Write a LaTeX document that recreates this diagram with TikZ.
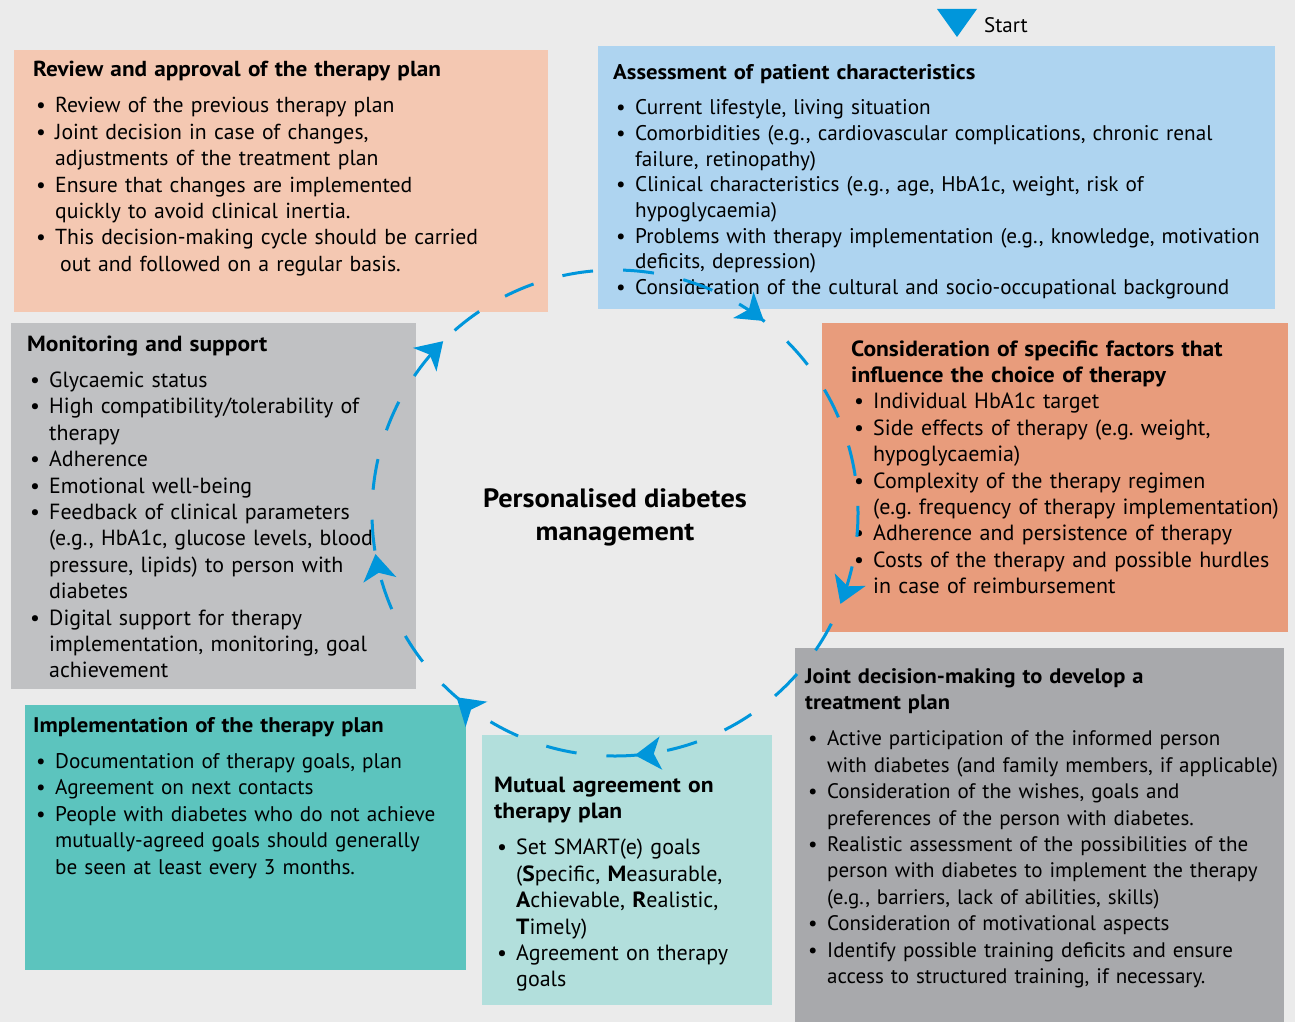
\documentclass[tikz,border=0pt]{standalone}
\usepackage{fontspec}
\setmainfont{PT Sans}[BoldFeatures={FakeStretch=1.07}]
\usetikzlibrary{arrows.meta,decorations.markings}
\definecolor{backgr}{RGB}{235,235,235}
\definecolor{flowblue}{RGB}{0,150,219}
\definecolor{reviewcol}{RGB}{244,200,178}
\definecolor{assesscol}{RGB}{174,212,240}
\definecolor{factorcol}{RGB}{232,156,124}
\definecolor{monitorcol}{RGB}{192,193,195}
\definecolor{jointcol}{RGB}{168,169,172}
\definecolor{implcol}{RGB}{92,196,190}
\definecolor{mutualcol}{RGB}{178,223,220}
\newcommand{\bul}{\hspace*{3pt}\makebox[19pt][l]{\textbullet}}
\newcommand{\cont}{\hspace*{22pt}}
\frenchspacing

\begin{document}
\begin{tikzpicture}[x=1pt,y=1pt,
	panel/.style={anchor=north west, inner sep=0pt, outer sep=0pt},
	body/.style={anchor=base west, inner sep=0pt, align=left, text width=700pt,
		font=\fontsize{#1}{26.4}\selectfont},
	ring/.style={draw=flowblue, line width=3pt, dash pattern=on 31pt off 30.08pt, dash phase=53pt,
		postaction={decorate, decoration={markings,
			mark=at position 0.105 with {\arrow{Stealth[length=26pt,width=33pt,inset=7pt]}},
			mark=at position 0.311 with {\arrow{Stealth[length=26pt,width=33pt,inset=7pt]}},
			mark=at position 0.487 with {\arrow{Stealth[length=26pt,width=33pt,inset=7pt]}},
			mark=at position 0.613 with {\arrow{Stealth[length=26pt,width=33pt,inset=7pt]}},
			mark=at position 0.723 with {\arrow{Stealth[length=26pt,width=33pt,inset=7pt]}},
			mark=at position 0.875 with {\arrow{Stealth[length=26pt,width=33pt,inset=7pt]}}}}}]
	\useasboundingbox[fill=backgr] (0,0) rectangle (1295,-1022);

	% start marker
	\fill[flowblue] (937,-9) -- (977,-9) -- (957,-37) -- cycle;
	\node[anchor=base west, inner sep=0pt, font=\fontsize{21}{26}\selectfont] (start) at (984,-33) {Start};

	% panels
	\node[panel, fill=reviewcol, minimum width=534pt, minimum height=262pt] (review) at (14,-50) {};
	\node[panel, fill=assesscol, minimum width=677pt, minimum height=263pt] (assess) at (598,-46) {};
	\node[panel, fill=factorcol, minimum width=466pt, minimum height=309pt] (factor) at (822,-323) {};
	\node[panel, fill=monitorcol, minimum width=405pt, minimum height=366pt] (monitor) at (11,-323) {};
	\node[panel, fill=jointcol, minimum width=489pt, minimum height=374pt] (joint) at (795,-648) {};
	\node[panel, fill=implcol, minimum width=441pt, minimum height=265pt] (impl) at (25,-705) {};
	\node[panel, fill=mutualcol, minimum width=290pt, minimum height=270pt] (mutual) at (482,-735) {};

	% texts
	\node[body=21.7] (reviewtxt) at (33,-77) {\textbf{Review and approval of the therapy plan}\\[9.6pt]
		\bul Review of the previous therapy plan\\
		\bul Joint decision in case of changes,\\
		\cont adjustments of the treatment plan\\
		\bul Ensure that changes are implemented\\
		\cont quickly to avoid clinical inertia.\\
		\bul This decision-making cycle should be carried\\
		\cont\hspace*{5pt}out and followed on a regular basis.};
	\node[body=21.2, font=\fontsize{21.2}{25.7}\selectfont] (assesstxt) at (613,-80) {\textbf{Assessment of patient characteristics}\\[9pt]
		\bul Current lifestyle, living situation\\
		\bul Comorbidities (e.g., cardiovascular complications, chronic renal\\
		\cont failure, retinopathy)\\
		\bul Clinical characteristics (e.g., age, HbA1c, weight, risk of\\
		\cont hypoglycaemia)\\
		\bul Problems with therapy implementation (e.g., knowledge, motivation\\
		\cont deficits, depression)\\
		\bul Consideration of the cultural and socio-occupational background};
	\node[body=22] (factortxt) at (851,-356) {\textbf{Consideration of specific factors that}\\
		\textbf{influence the choice of therapy}\\
		\bul Individual HbA1c target\\
		\bul Side effects of therapy (e.g. weight,\\
		\cont hypoglycaemia)\\
		\bul Complexity of the therapy regimen\\
		\cont (e.g. frequency of therapy implementation)\\
		\bul Adherence and persistence of therapy\\
		\bul Costs of the therapy and possible hurdles\\
		\cont in case of reimbursement};
	\node[body=21.9] (monitortxt) at (27,-351) {\textbf{Monitoring and support}\\[10pt]
		\bul Glycaemic status\\
		\bul High compatibility/tolerability of\\
		\cont therapy\\
		\bul Adherence\\
		\bul Emotional well-being\\
		\bul Feedback of clinical parameters\\
		\cont (e.g., HbA1c, glucose levels, blood\\
		\cont pressure, lipids) to person with\\
		\cont diabetes\\
		\bul Digital support for therapy\\
		\cont implementation, monitoring, goal\\
		\cont achievement};
	\node[body=21] (jointtxt) at (805,-683) {\textbf{Joint decision-making to develop a}\\
		\textbf{treatment plan}\\[10pt]
		\bul Active participation of the informed person\\
		\cont with diabetes (and family members, if applicable)\\
		\bul Consideration of the wishes, goals and\\
		\cont preferences of the person with diabetes.\\
		\bul Realistic assessment of the possibilities of the\\
		\cont person with diabetes to implement the therapy\\
		\cont (e.g., barriers, lack of abilities, skills)\\
		\bul Consideration of motivational aspects\\
		\bul Identify possible training deficits and ensure\\
		\cont access to structured training, if necessary.};
	\node[body=21.2] (impltxt) at (33,-732) {\textbf{Implementation of the therapy plan}\\[10pt]
		\bul Documentation of therapy goals, plan\\
		\bul Agreement on next contacts\\
		\bul People with diabetes who do not achieve\\
		\cont mutually-agreed goals should generally\\
		\cont be seen at least every 3 months.};
	\node[body=22] (mutualtxt) at (494,-792) {\textbf{Mutual agreement on}\\
		\textbf{therapy plan}\\[10pt]
		\bul Set SMART(e) goals\\
		\cont (\textbf{S}pecific, \textbf{M}easurable,\\
		\cont \textbf{A}chievable, \textbf{R}ealistic,\\
		\cont \textbf{T}imely)\\
		\bul Agreement on therapy\\
		\cont goals};

	% centre
	\node[align=center, inner sep=0pt, font=\fontsize{26.5}{33}\selectfont\bfseries] (centre) at (615,-517)
		{Personalised diabetes\\management};

	% cycle
	\coordinate (hub) at (615,-513);
	\draw[ring] (hub) ++(90:243) arc[start angle=90, end angle=-270, radius=243];
\end{tikzpicture}
\end{document}
